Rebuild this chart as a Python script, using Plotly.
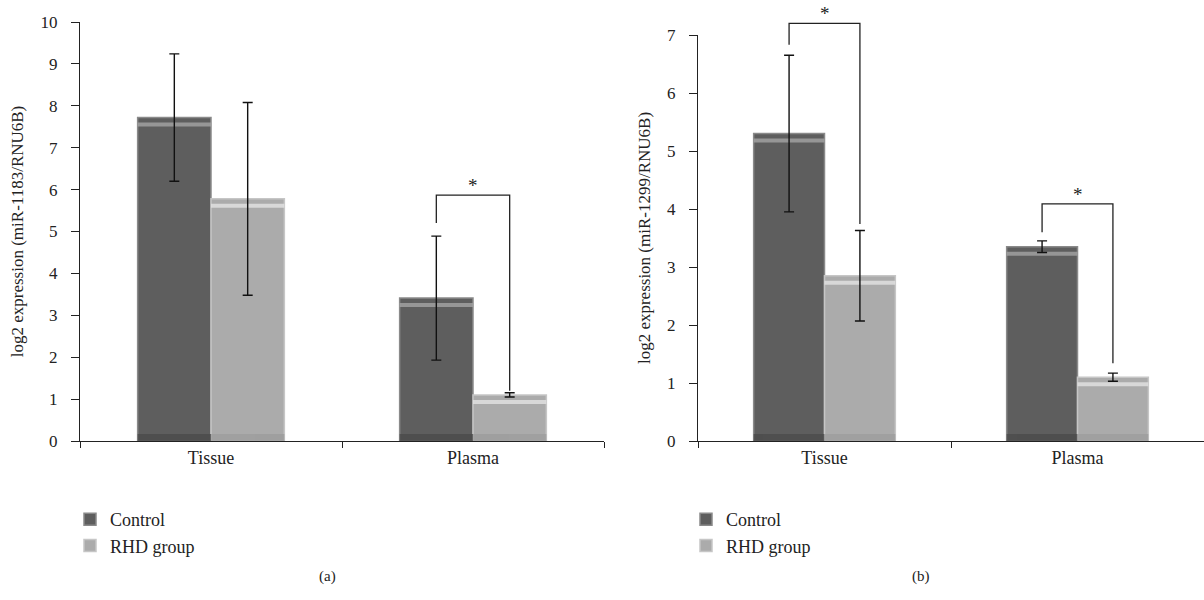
import plotly.graph_objects as go

categories = ["Tissue", "Plasma"]
cat_pos = [0, 1]

# Panel (a): miR-1183
a_control = [7.72, 3.41]
a_control_err = [1.52, 1.48]
a_rhd = [5.78, 1.10]
a_rhd_err = [2.30, 0.05]

# Panel (b): miR-1299
b_control = [5.30, 3.35]
b_control_err = [1.35, 0.10]
b_rhd = [2.85, 1.10]
b_rhd_err = [0.78, 0.07]

# significance brackets: (category index, top, left-leg bottom, right-leg bottom)
a_brackets = [(1, 5.87, 5.20, 1.20)]
b_brackets = [(0, 7.20, 6.83, 3.74), (1, 4.09, 3.60, 1.34)]

series_names = ["Control", "RHD group"]
colors = ["#5e5e5e", "#ababab"]
line_colors = ["#8a8a8a", "#c6c6c6"]
hi_colors = ["#a4a4a4", "#e4e4e4"]
lo_colors = ["#4a4a4a", "#9c9c9c"]

FONT = "Liberation Serif, Times New Roman, serif"
TXT = "#222222"
BARGAP = 0.44
half_offset = (1 - BARGAP) / 4

Y0 = 441  # pixel row of value 0
fig = go.Figure()


def add_panel(xa, ya, yb, ctrl, ctrl_err, rhd, rhd_err, brackets, legend, px_per_unit):
    vals = [ctrl, rhd]
    errs = [ctrl_err, rhd_err]
    for i in range(2):
        fig.add_trace(go.Bar(
            x=cat_pos, y=vals[i], name=series_names[i],
            marker=dict(color=colors[i], line=dict(color=line_colors[i], width=1.5)),
            offsetgroup=str(i), xaxis=xa, yaxis=ya, legend=legend, showlegend=True,
        ))
    for i in range(2):
        fig.add_trace(go.Bar(
            x=cat_pos, y=[4.0 / px_per_unit] * 2, base=[v - 9.0 / px_per_unit for v in vals[i]],
            marker=dict(color=hi_colors[i], line=dict(width=0)), opacity=0.8,
            offsetgroup=str(i), xaxis=xa, yaxis=ya, showlegend=False, hoverinfo="skip",
        ))
        fig.add_trace(go.Bar(
            x=cat_pos, y=[7.0 / px_per_unit] * 2, base=[0, 0],
            marker=dict(color=lo_colors[i], line=dict(width=0)), opacity=0.75,
            offsetgroup=str(i), xaxis=xa, yaxis=ya, showlegend=False, hoverinfo="skip",
        ))
    for i in range(2):
        fig.add_trace(go.Bar(
            x=cat_pos, y=vals[i], marker=dict(color="rgba(0,0,0,0)", line=dict(width=0)),
            error_y=dict(type="data", array=errs[i], color="#111111", thickness=1.4, width=5),
            offsetgroup=str(i), xaxis=xa, yaxis=ya, showlegend=False, hoverinfo="skip",
        ))
    for (ci, top, lb, rb) in brackets:
        xl = cat_pos[ci] - half_offset
        xr = cat_pos[ci] + half_offset
        fig.add_trace(go.Scatter(
            x=[xl, xl, xr, xr], y=[lb, top, top, rb], mode="lines",
            line=dict(color="#222222", width=1.3),
            xaxis=xa, yaxis=yb, showlegend=False, hoverinfo="skip",
        ))
        fig.add_annotation(
            x=cat_pos[ci], y=top, xref=xa, yref=yb, text="*", showarrow=False,
            yanchor="bottom", yshift=-3, font=dict(family=FONT, size=19, color=TXT),
        )


add_panel("x", "y", "y3", a_control, a_control_err, a_rhd, a_rhd_err, a_brackets, "legend", 41.9)
add_panel("x2", "y2", "y4", b_control, b_control_err, b_rhd, b_rhd_err, b_brackets, "legend2", 58.0)

xaxis_common = dict(
    range=[-0.5, 1.5], tickvals=cat_pos, ticktext=categories, ticks="",
    showline=True, linecolor="#222222", linewidth=1.3, showgrid=False, zeroline=False,
    tickfont=dict(family=FONT, size=18, color=TXT), automargin=False,
    minor=dict(tickvals=[-0.5, 0.5, 1.5], ticks="outside", ticklen=6, tickcolor="#222222", tickwidth=1.3),
)
yaxis_common = dict(
    ticks="outside", ticklen=8, tickcolor="#222222", tickwidth=1.2, ticklabelstandoff=10,
    showline=True, linecolor="#222222", linewidth=1.3, showgrid=False, zeroline=False,
    tickfont=dict(family=FONT, size=17, color=TXT), automargin=False,
)
hidden_y = dict(visible=False, showgrid=False, zeroline=False, automargin=False, fixedrange=True)

fig.update_layout(
    width=1204, height=600, barmode="group", bargap=BARGAP, bargroupgap=0,
    plot_bgcolor="rgba(0,0,0,0)", paper_bgcolor="white",
    margin=dict(l=0, r=0, t=0, b=0),
    xaxis=dict(domain=[80 / 1204, 604 / 1204], anchor="y", **xaxis_common),
    xaxis2=dict(domain=[698 / 1204, 1.0], anchor="y2", **xaxis_common),
    yaxis=dict(domain=[1 - Y0 / 600, 1 - 22 / 600], range=[0, 10], dtick=1, anchor="x",
               title=dict(text="log2 expression (miR-1183/RNU6B)", standoff=12,
                          font=dict(family=FONT, size=17, color=TXT)),
               **yaxis_common),
    yaxis2=dict(domain=[1 - Y0 / 600, 1 - 35 / 600], range=[0, 7], dtick=1, anchor="x2",
                title=dict(text="log2 expression (miR-1299/RNU6B)", standoff=12,
                           font=dict(family=FONT, size=17, color=TXT)),
                **yaxis_common),
    yaxis3=dict(domain=[1 - Y0 / 600, 1.0], range=[0, Y0 / 41.9], anchor="x", **hidden_y),
    yaxis4=dict(domain=[1 - Y0 / 600, 1.0], range=[0, Y0 / 58.0], anchor="x2", **hidden_y),
    legend=dict(x=70 / 1204, y=1 - 501 / 600, xanchor="left", yanchor="top",
                font=dict(family=FONT, size=18, color=TXT), tracegroupgap=0,
                bgcolor="rgba(0,0,0,0)"),
    legend2=dict(x=686 / 1204, y=1 - 501 / 600, xanchor="left", yanchor="top",
                 font=dict(family=FONT, size=18, color=TXT), tracegroupgap=0,
                 bgcolor="rgba(0,0,0,0)"),
    showlegend=True,
)

fig.add_annotation(x=317 / 1204, y=1 - 587 / 600, xref="paper", yref="paper", text="(a)",
                   showarrow=False, font=dict(family=FONT, size=15, color=TXT))
fig.add_annotation(x=932 / 1204, y=1 - 587 / 600, xref="paper", yref="paper", text="(b)",
                   showarrow=False, font=dict(family=FONT, size=15, color=TXT))

fig.write_html("out.html", config={"displayModeBar": False},
               post_script="document.body.style.margin='0';")
